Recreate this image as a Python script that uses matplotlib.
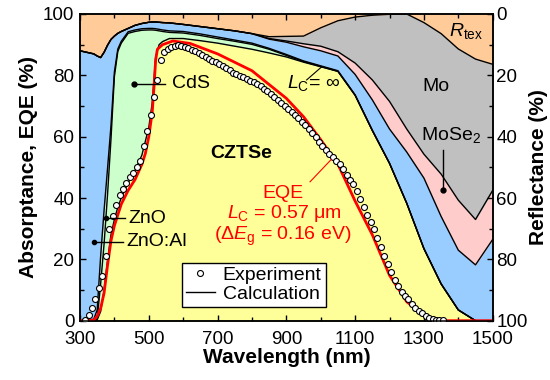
import numpy as np
import matplotlib
matplotlib.use("Agg")
import matplotlib.pyplot as plt
from matplotlib.ticker import MultipleLocator

plt.rcParams['font.family'] = ['Liberation Sans', 'DejaVu Sans']
plt.rcParams['mathtext.fontset'] = 'custom'
plt.rcParams['mathtext.rm'] = 'Liberation Sans'
plt.rcParams['mathtext.it'] = 'Liberation Sans:italic'
plt.rcParams['mathtext.bf'] = 'Liberation Sans:bold'

# Layer absorptance (%) of the solar cell stack, bottom to top, plus reflectance
wl = [300, 320, 340, 350, 360, 370, 380, 390, 400, 410,
      420, 440, 460, 480, 500, 510, 520, 530, 540, 560,
      600, 650, 700, 750, 800, 850, 900, 950, 1000, 1050,
      1100, 1150, 1200, 1250, 1300, 1350, 1400, 1450, 1500]
czts = [0, 0, 0, 0.3, 3, 10, 19.5, 28, 33, 37,
        40, 45, 49, 54, 63, 71, 86, 90, 91, 92,
        92, 91.3, 90.5, 89.5, 88.5, 87.3, 86, 84.3, 82.8, 81.3,
        73.5, 62, 51.3, 38.3, 23.5, 12, 3.5, 0, 0]
cds = [0, 0, 0.1, 0.2, 9, 15, 21.5, 31, 46.6, 50.8,
       50.5, 48.7, 45.3, 40.7, 31.8, 23.8, 8.7, 4.5, 3.3, 2.0,
       1.8, 1.7, 1.5, 1.6, 1.6, 1.2, 0.5, 0.2, 0.1, 0,
       0, 0, 0, 0, 0, 0, 0, 0, 0]
zno = [0, 0, 0.4, 3, 9, 11, 8.5, 4.5, 1.5, 0.8,
       0.6, 0.5, 0.5, 0.5, 0.5, 0.5, 0.5, 0.5, 0.5, 0.5,
       0.5, 0.5, 0.5, 0.4, 0.4, 0.3, 0.3, 0.2, 0.2, 0.2,
       0.1, 0.1, 0, 0, 0, 0, 0, 0, 0]
zno_al = [88, 87.5, 86.5, 82.8, 64.8, 51.5, 40.3, 28.2, 11.7, 5.1,
          3.2, 1.1, 1.5, 1.7, 2.0, 2.1, 2.2, 2.3, 2.4, 2.6,
          2.3, 2.4, 2.7, 3.0, 3.1, 3.0, 4.0, 4.6, 4.9, 4.8,
          6.7, 9.9, 11.2, 16.7, 23, 22, 19.5, 18.2, 26.5]
mose2 = [0, 0, 0, 0, 0, 0, 0, 0, 0, 0,
         0, 0, 0, 0, 0, 0, 0, 0, 0, 0,
         0, 0, 0, 0, 0, 0.2, 0.4, 1.0, 1.5, 1.4,
         3.7, 6.5, 9, 7.5, 7.8, 13.8, 16.3, 14.8, 16]
mo = [0, 0, 0, 0, 0, 0, 0, 0, 0, 0,
      0, 0, 0, 0, 0, 0, 0, 0, 0, 0,
      0, 0, 0, 0, 0, 0.6, 1.5, 2.5, 6, 10.1,
      15, 21.1, 28.4, 37.5, 42.9, 45.8, 49.3, 52.3, 41.1]
refl = [12, 12.5, 13, 13.7, 14.2, 12.5, 10.2, 8.3, 7.2, 6.3,
        5.7, 4.7, 3.7, 3.1, 2.7, 2.6, 2.6, 2.7, 2.8, 2.9,
        3.4, 4.1, 4.8, 5.5, 6.4, 7.4, 7.3, 7.2, 4.5, 2.2,
        1.0, 0.4, 0.1, 0, 2.8, 6.4, 11.4, 14.7, 16.4]

# Calculated EQE (L_C = 0.57 um)
eqe_calc_wl = [300, 340, 350, 360, 370, 380, 390, 400, 420, 440,
               460, 480, 490, 500, 510, 515, 520, 525, 540, 570,
               620, 700, 800, 900, 950, 1000, 1050, 1100, 1150, 1200,
               1250, 1300, 1350, 1400, 1500]
eqe_calc = [0, 0.2, 1.5, 4, 9, 18, 26, 31, 38, 42.5,
            46, 51, 54.5, 60, 68, 76, 85, 88.5, 90, 91.2,
            90.4, 87, 81.5, 72.5, 66.5, 59, 51, 39, 28, 14.8,
            6.2, 1.6, 0, 0, 0]

# Measured EQE
eqe_exp_wl = np.arange(315, 1365, 10)
eqe_exp = [0.3, 1.8, 4.0, 7.0, 10.6, 14.5, 21.0, 30.0, 34.2, 37.8,
           41.0, 43.0, 45.0, 46.8, 48.3, 50.0, 52.0, 57.0, 62.0, 67.0,
           73.0, 78.5, 85.0, 87.5, 88.7, 89.3, 89.6, 89.8, 89.7, 89.4,
           89.0, 88.4, 87.8, 87.2, 86.6, 86.0, 85.4, 84.8, 84.2, 83.6,
           83.0, 82.3, 81.6, 80.9, 80.3, 79.8, 79.3, 78.8, 78.3, 77.8,
           77.2, 76.5, 75.7, 74.9, 74.0, 73.0, 72.0, 71.0, 70.0, 69.0,
           68.0, 67.0, 66.0, 64.9, 63.7, 62.4, 61.1, 59.8, 58.4, 57.0,
           55.6, 54.5, 53.4, 52.2, 51.0, 49.4, 47.6, 46.0, 44.5, 42.2,
           39.8, 37.0, 34.4, 32.2, 30.0, 27.0, 24.0, 21.2, 18.5, 15.8,
           13.2, 11.2, 9.5, 8.2, 7.0, 5.5, 4.3, 3.3, 2.4, 1.6,
           1.0, 0.6, 0.3, 0.2, 0.1]

x_ticks = [300, 500, 700, 900, 1100, 1300, 1500]

layer_colors = ['#ffff99', '#ccffcc', '#ccffcc', '#99ccff',
                '#ffcccc', '#c0c0c0', '#ffcc99']

fig = plt.figure(figsize=(5.5, 3.8), dpi=100)
ax = fig.add_axes([80 / 550, 1 - 320.7 / 380, 412.7 / 550, 306.7 / 380])

layers = [czts, cds, zno, zno_al, mose2, mo, refl]
polys = ax.stackplot(wl, *layers, colors=layer_colors, zorder=1)
for p in polys:
    p.set_edgecolor(p.get_facecolor())
    p.set_linewidth(0.3)

# black boundary lines between the layers
tops = np.cumsum(np.array(layers[:-1], dtype=float), axis=0)
for i, t in enumerate(tops):
    line, = ax.plot(wl, t, color='black', lw=1, zorder=2)
    if i == 0:
        calc_line = line

ax.plot(eqe_calc_wl, eqe_calc, color='#ff0000', lw=2, zorder=4)
circ, = ax.plot(eqe_exp_wl, eqe_exp, 'o', ms=4.3, mfc='white', mec='black',
                mew=0.8, zorder=5)

# layer labels
ax.plot([457, 547], [77.2, 77.2], color='black', lw=1, zorder=6)
ax.plot(457, 77.2, 'o', ms=3.5, color='black', zorder=6)
ax.text(567, 77.2, 'CdS', fontsize=14, va='center', ha='left')

ax.plot([376, 431], [33.4, 33.4], color='black', lw=1, zorder=6)
ax.plot(376, 33.4, 'o', ms=3, color='black', zorder=6)
ax.text(440, 33.4, 'ZnO', fontsize=14, va='center', ha='left')

ax.plot([342, 424], [25.8, 25.8], color='black', lw=1, zorder=6)
ax.plot(342, 25.8, 'o', ms=3, color='black', zorder=6)
ax.text(436, 25.8, 'ZnO:Al', fontsize=14, va='center', ha='left')

ax.text(768, 54.6, 'CZTSe', fontsize=14, fontweight='bold',
        ha='center', va='center')

ax.plot([959, 1003], [78.5, 82.8], color='black', lw=0.8, zorder=6)
ax.text(901, 77.5, r'$L_\mathrm{C}$= ∞', fontsize=14, ha='left', va='center')

ax.text(1335, 76.3, 'Mo', fontsize=14, ha='center', va='center')
ax.text(1379, 60.5, r'MoSe$_2$', fontsize=14, ha='center', va='center')
ax.plot([1356, 1356], [55.7, 42.6], color='black', lw=1, zorder=6)
ax.plot(1356, 42.6, 'o', ms=3.5, color='black', zorder=6)
ax.text(1423, 94.5, r'$R_\mathrm{tex}$', fontsize=14, ha='center', va='center')

ax.plot([969, 1030], [45.3, 52.5], color='#ff0000', lw=0.8, zorder=6)
ax.text(891, 41.6, 'EQE', color='#ff0000', fontsize=14, ha='center', va='center')
ax.text(893, 34.8, r'$L_\mathrm{C}$ = 0.57 μm', color='#ff0000', fontsize=14,
        ha='center', va='center')
ax.text(888, 27.6, r'(Δ$E_\mathrm{g}$ = 0.16 eV)', color='#ff0000', fontsize=14,
        ha='center', va='center')

leg = ax.legend([circ, calc_line], ['Experiment', 'Calculation'],
                loc='lower left', bbox_to_anchor=(0.247, 0.0456), fontsize=14,
                fancybox=False, edgecolor='black', framealpha=1,
                borderpad=0.2, handlelength=1.5, handletextpad=0.4,
                labelspacing=0.05, borderaxespad=0)
leg.get_frame().set_linewidth(1)
leg.set_zorder(10)

ax.set_xlim(300, 1500)
ax.set_ylim(0, 100)
ax.set_xticks(x_ticks)
ax.xaxis.set_minor_locator(MultipleLocator(100))
ax.yaxis.set_major_locator(MultipleLocator(20))
ax.yaxis.set_minor_locator(MultipleLocator(10))
ax.tick_params(which='both', direction='in', top=True, right=False,
               labelsize=13.5, width=1)
ax.tick_params(which='major', length=4.5)
ax.tick_params(axis='x', which='major', pad=7.5)
ax.tick_params(axis='y', which='major', pad=4)
ax.tick_params(which='minor', length=3)
ax.set_xlabel('Wavelength (nm)', fontsize=15, fontweight='bold', labelpad=0)
ax.set_ylabel('Absorptance, EQE (%)', fontsize=15, fontweight='bold')

ax2 = ax.twinx()
ax2.set_ylim(100, 0)
ax2.yaxis.set_major_locator(MultipleLocator(20))
ax2.yaxis.set_minor_locator(MultipleLocator(10))
ax2.tick_params(which='both', direction='in', labelsize=13.5, width=1)
ax2.tick_params(which='major', length=4.5, pad=2.5)
ax2.tick_params(which='minor', length=3)
ax2.set_ylabel('Reflectance (%)', fontsize=15, fontweight='bold', labelpad=1)

for a in (ax, ax2):
    for s in a.spines.values():
        s.set_linewidth(1.1)

fig.savefig('out.png', dpi=100)
